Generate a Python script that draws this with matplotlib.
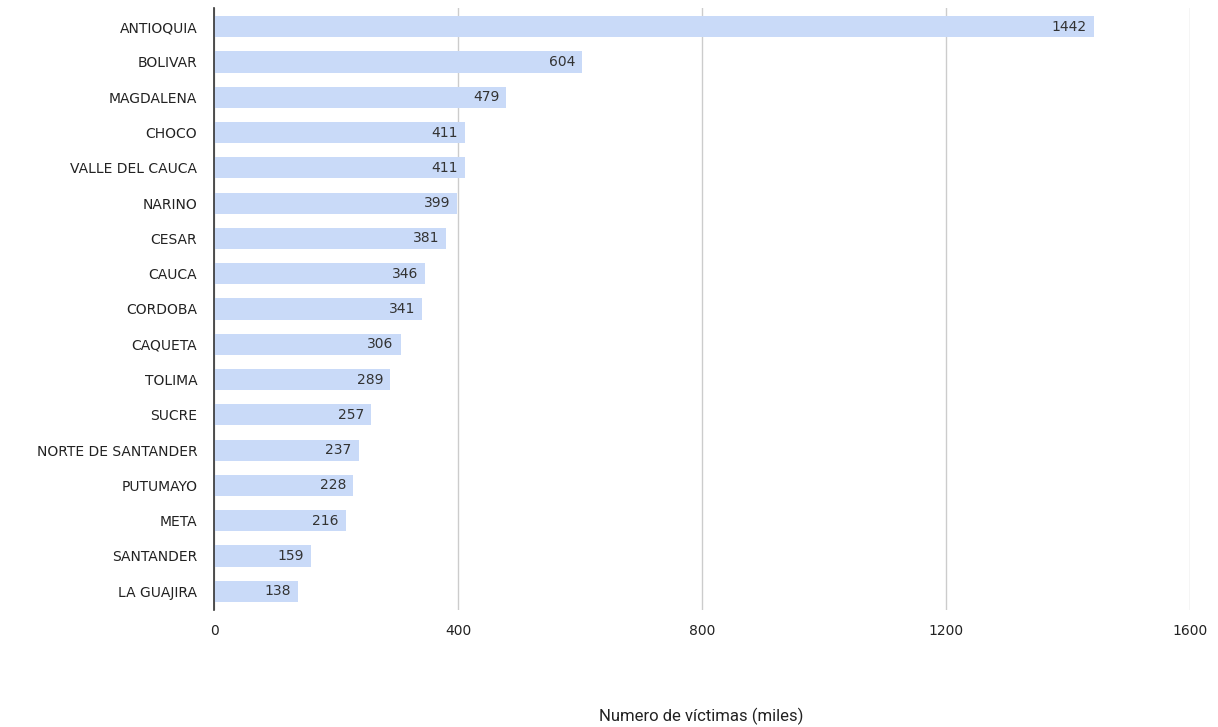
import matplotlib
matplotlib.use("Agg")
import matplotlib.pyplot as plt

# ── DATA ───────────────────────────────────────────────────────────────────────
departamentos = [
    "ANTIOQUIA", "BOLIVAR", "MAGDALENA", "CHOCO", "VALLE DEL CAUCA", "NARINO",
    "CESAR", "CAUCA", "CORDOBA", "CAQUETA", "TOLIMA", "SUCRE",
    "NORTE DE SANTANDER", "PUTUMAYO", "META", "SANTANDER", "LA GUAJIRA",
]
victimas = [1442, 604, 479, 411, 411, 399, 381, 346, 341, 306, 289, 257,
            237, 228, 216, 159, 138]
x_ticks = [0, 400, 800, 1200, 1600]

BAR   = '#c9daf8'
GRID  = '#cccccc'
TEXT  = '#222222'
SPINE = '#333333'

plt.rcParams['font.family'] = ['DejaVu Sans']

fig = plt.figure(figsize=(12.18, 7.27), dpi=100, facecolor='white')
ax = fig.add_axes([0.1757, 0.161, 0.8013, 0.828])

y = list(range(len(departamentos)))
bars = ax.barh(y, victimas, height=0.6, color=BAR, zorder=2)

for b, v in zip(bars, victimas):
    ax.annotate(str(v), (b.get_width(), b.get_y() + b.get_height() / 2),
                xytext=(-5, 0), textcoords='offset points',
                ha='right', va='center', fontsize=10, color='#333333', zorder=3)

ax.set_xlim(0, 1600)
ax.set_ylim(16.53, -0.53)
ax.set_xticks(x_ticks)
ax.set_xticklabels([str(t) for t in x_ticks], fontsize=10, color=TEXT)
ax.set_yticks(y)
ax.set_yticklabels(departamentos, fontsize=10, color=TEXT)

ax.tick_params(axis='both', length=0)
ax.tick_params(axis='y', pad=12)
ax.tick_params(axis='x', pad=10)
ax.xaxis.grid(True, color=GRID, linewidth=1, zorder=0)
ax.set_axisbelow(True)

for side in ('top', 'right', 'bottom'):
    ax.spines[side].set_visible(False)
ax.spines['left'].set_color(SPINE)
ax.spines['left'].set_linewidth(1.2)
ax.spines['left'].set_zorder(4)

fig.text(0.5757, 0.015, 'Numero de víctimas (miles)', ha='center', va='center',
         fontsize=12, color=TEXT, family=['Roboto', 'DejaVu Sans'])

plt.savefig('out.png', dpi=100, facecolor='white')
plt.close()
